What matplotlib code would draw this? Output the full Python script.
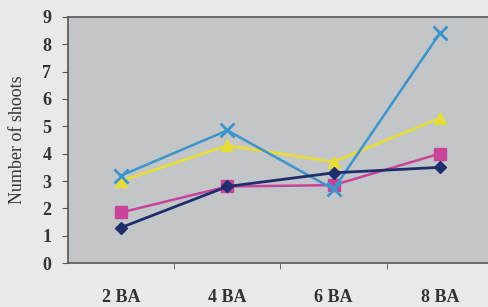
import matplotlib.pyplot as plt
import numpy as np

# Categories and series
categories = ["2 BA", "4 BA", "6 BA", "8 BA"]
series_diamond = [1.3, 2.8, 3.3, 3.5]
series_square = [1.85, 2.8, 2.85, 4.0]
series_triangle = [3.0, 4.3, 3.7, 5.3]
series_cross = [3.2, 4.85, 2.7, 8.4]
y_ticks = list(range(0, 10))

plt.rcParams["font.family"] = ["Liberation Serif", "DejaVu Serif"]

fig = plt.figure(figsize=(4.89, 3.07), dpi=100)
fig.patch.set_facecolor("#e9e9e6")
ax = fig.add_axes([0.139, 0.143, 0.869, 0.802])
ax.set_facecolor("#c3c6c9")

x = np.arange(len(categories))
ax.plot(x, series_triangle, color="#e6dc3c", lw=2, marker="^", ms=8, zorder=3)
ax.plot(x, series_cross, color="#3d94c8", lw=1.8, marker="x", ms=10, mew=2, zorder=4)
ax.plot(x, series_square, color="#c8449a", lw=1.8, marker="s", ms=8, zorder=3)
ax.plot(x, series_diamond, color="#1f2f6e", lw=2, marker="D", ms=6, zorder=5)

ax.set_xlim(-0.5, len(categories) - 0.5)
ax.set_ylim(0, 9)
ax.set_yticks(y_ticks)
ax.set_xticks(x)
ax.set_xticklabels(categories)
ax.set_xticks(x[:-1] + 0.5, minor=True)
ax.tick_params(axis="x", which="major", length=0, pad=19)
ax.tick_params(axis="x", which="minor", length=4, color="#555555")
ax.tick_params(axis="y", length=4, color="#555555", pad=8)
for lbl in ax.get_xticklabels() + ax.get_yticklabels():
    lbl.set_fontsize(13)
    lbl.set_fontweight("bold")
    lbl.set_color("#333333")

ax.set_ylabel("Number of shoots", fontsize=13, color="#333333", labelpad=12)

for s in ["left", "bottom", "top"]:
    ax.spines[s].set_color("#555555")
    ax.spines[s].set_linewidth(1.2)
ax.spines["right"].set_visible(False)

fig.savefig("out.png", dpi=100, facecolor=fig.get_facecolor())
